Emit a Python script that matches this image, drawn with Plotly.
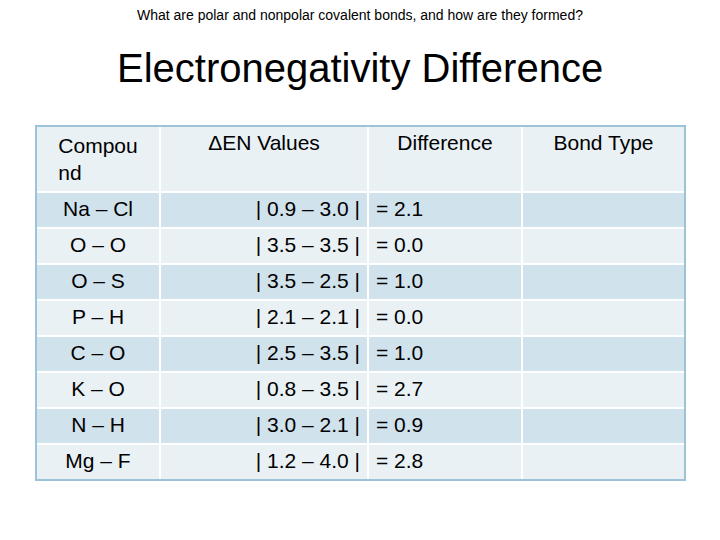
import plotly.graph_objects as go

headers = ["Compou<br>nd", "ΔEN Values", "Difference", "Bond Type"]
compounds = ["Na – Cl", "O – O", "O – S", "P – H", "C – O", "K – O", "N – H", "Mg – F"]
en_values = ["| 0.9 – 3.0 |", "| 3.5 – 3.5 |", "| 3.5 – 2.5 |", "| 2.1 – 2.1 |",
             "| 2.5 – 3.5 |", "| 0.8 – 3.5 |", "| 3.0 – 2.1 |", "| 1.2 – 4.0 |"]
differences = ["= 2.1", "= 0.0", "= 1.0", "= 0.0", "= 1.0", "= 2.7", "= 0.9", "= 2.8"]
bond_types = [""] * 8

row_colors = ["#d0e2eb" if i % 2 == 0 else "#e9f1f5" for i in range(8)]

W, H = 720, 540
off = 8
x0, x1 = (36 - off) / W, (685 - off) / W
y1, y0 = 1 - (126 - off) / H, 1 - (480 - off) / H

fig = go.Figure(go.Table(
    domain=dict(x=[x0, x1], y=[y0, y1]),
    columnwidth=[124, 208, 154, 163],
    header=dict(values=headers, fill_color="#e9f1f5", line=dict(color="white", width=2),
                align="center", height=66,
                font=dict(family="Liberation Sans, Arial", size=21, color="black")),
    cells=dict(values=[compounds, en_values, differences, bond_types],
               fill_color=[row_colors] * 4, line=dict(color="white", width=2),
               align=["center", "right", "left", "left"], height=36,
               font=dict(family="Liberation Sans, Arial", size=21, color="black")),
))
fig.add_shape(type="rect", xref="paper", yref="paper", x0=x0, x1=x1, y0=y0, y1=y1,
              line=dict(color="#9cc3d8", width=2))
fig.add_annotation(text="What are polar and nonpolar covalent bonds, and how are they formed?",
                   x=(360 - off) / W, y=1 - (15 - off) / H, xref="paper", yref="paper",
                   showarrow=False, yanchor="middle",
                   font=dict(family="Liberation Sans, Arial", size=14, color="black"))
fig.add_annotation(text="Electronegativity Difference",
                   x=(360 - off) / W, y=1 - (68 - off) / H, xref="paper", yref="paper",
                   showarrow=False, yanchor="middle",
                   font=dict(family="Liberation Sans, Arial", size=40, color="black"))
fig.update_layout(width=W, height=H, margin=dict(l=0, r=0, t=0, b=0),
                  paper_bgcolor="white", plot_bgcolor="white")
fig.write_html("out.html")
